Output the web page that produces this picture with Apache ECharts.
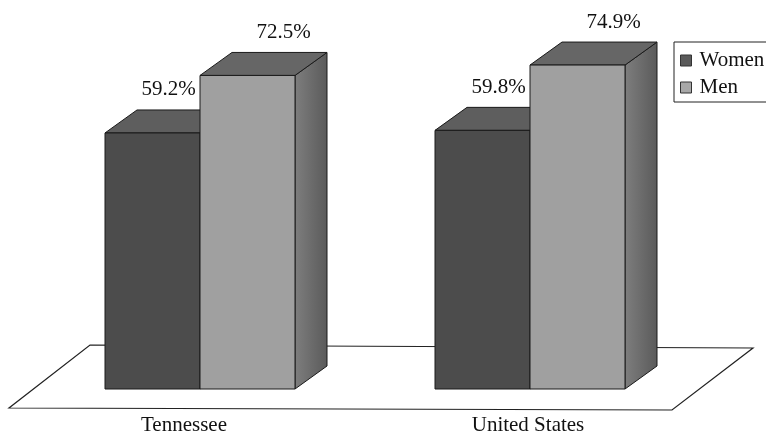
<!DOCTYPE html>
<html>
<head>
<meta charset="utf-8">
<script src="https://cdn.jsdelivr.net/npm/echarts@6/dist/echarts.min.js"></script>
<style>
html,body{margin:0;padding:0;background:#fff;}
#chart{width:766px;height:433px;}
</style>
</head>
<body>
<div id="chart"></div>
<script>
// ---- data ----
const categories = ['Tennessee', 'United States'];
const seriesNames = ['Women', 'Men'];
const womenValues = [59.2, 59.8];
const menValues = [72.5, 74.9];

// ---- style ----
const FONT = '"Liberation Serif", "Times New Roman", serif';
const FS = 21;
const BAR_FRAC = 95 / 330;
const DEPTH_X = 32, DEPTH_Y = -23;
const LABEL_SHIFT = [32, 4];
const PALETTE = [
  { front: '#4c4c4c', top: '#5e5e5e', sideA: '#6e6e6e', sideB: '#4a4a4a', icon: '#5a5a5a', lx: 16 },
  { front: '#a0a0a0', top: '#666666', sideA: '#7e7e7e', sideB: '#5a5a5a', icon: '#a8a8a8', lx: 36 }
];

function makeRender(idx) {
  const c = PALETTE[idx];
  return function (params, api) {
    const cat = api.value(0), val = api.value(1);
    const top = api.coord([cat, val]);
    const base = api.coord([cat, 0]);
    const band = api.size([1, 0])[0];
    const w = band * BAR_FRAC;
    const x0 = idx === 0 ? top[0] - w : top[0];
    const x1 = x0 + w;
    const y0 = top[1], y1 = base[1];
    const dx = DEPTH_X, dy = DEPTH_Y;
    const stroke = { stroke: '#1a1a1a', lineWidth: 1 };
    return {
      type: 'group',
      children: [
        {
          type: 'polygon',
          shape: { points: [[x1, y1], [x1 + dx, y1 + dy], [x1 + dx, y0 + dy], [x1, y0]] },
          style: Object.assign({
            fill: new echarts.graphic.LinearGradient(0, 0, 1, 0, [
              { offset: 0, color: c.sideA }, { offset: 1, color: c.sideB }
            ])
          }, stroke)
        },
        {
          type: 'polygon',
          shape: { points: [[x0, y0], [x0 + dx, y0 + dy], [x1 + dx, y0 + dy], [x1, y0]] },
          style: Object.assign({ fill: c.top }, stroke)
        },
        {
          type: 'rect',
          shape: { x: x0, y: y0, width: w, height: y1 - y0 },
          style: Object.assign({ fill: c.front }, stroke)
        },
        {
          type: 'text',
          x: (x0 + x1) / 2 + c.lx,
          y: y0 - 43,
          style: {
            text: val.toFixed(1) + '%',
            font: FS + 'px ' + FONT,
            fill: '#111',
            align: 'center',
            verticalAlign: 'middle'
          }
        }
      ]
    };
  };
}

const valueLists = [womenValues, menValues];

const chart = echarts.init(document.getElementById('chart'), null, { renderer: 'canvas' });
chart.setOption({
  animation: false,
  backgroundColor: '#fff',
  color: [PALETTE[0].icon, PALETTE[1].icon],
  grid: { left: 35, width: 660, top: 43, bottom: 44, containLabel: false, outerBoundsMode: 'none' },
  legend: {
    data: seriesNames,
    orient: 'vertical',
    left: 674,
    top: 42,
    padding: [8, 10, 4, 6],
    itemGap: 6,
    itemWidth: 11,
    itemHeight: 11,
    icon: 'rect',
    borderColor: '#222',
    borderWidth: 1,
    itemStyle: { borderColor: '#333', borderWidth: 1 },
    textStyle: { fontFamily: FONT, fontSize: FS, color: '#111', lineHeight: 21, padding: [0, 0, 0, 3] }
  },
  xAxis: {
    type: 'category',
    data: categories,
    axisLine: { show: false },
    axisTick: { show: false },
    axisLabel: {
      fontFamily: FONT, fontSize: FS, color: '#111', margin: 26,
      formatter: function (v, i) { return '{c' + i + '|' + v + '}'; },
      rich: {
        c0: { fontFamily: FONT, fontSize: FS, color: '#111', padding: [0, LABEL_SHIFT[0], 0, 0] },
        c1: { fontFamily: FONT, fontSize: FS, color: '#111', padding: [0, LABEL_SHIFT[1], 0, 0] }
      }
    }
  },
  yAxis: { type: 'value', min: 0, max: 80, show: false },
  graphic: [{
    type: 'polygon',
    z: -10,
    silent: true,
    shape: { points: [[90, 345], [753, 348], [672, 410], [9, 408]] },
    style: { fill: '#fff', stroke: '#222', lineWidth: 1.2 }
  }],
  series: seriesNames.map((name, i) => ({
    name: name,
    type: 'custom',
    coordinateSystem: 'cartesian2d',
    clip: false,
    itemStyle: { color: PALETTE[i].icon },
    encode: { x: 0, y: 1 },
    data: valueLists[i].map((v, k) => [k, v]),
    renderItem: makeRender(i)
  }))
});
</script>
</body>
</html>
